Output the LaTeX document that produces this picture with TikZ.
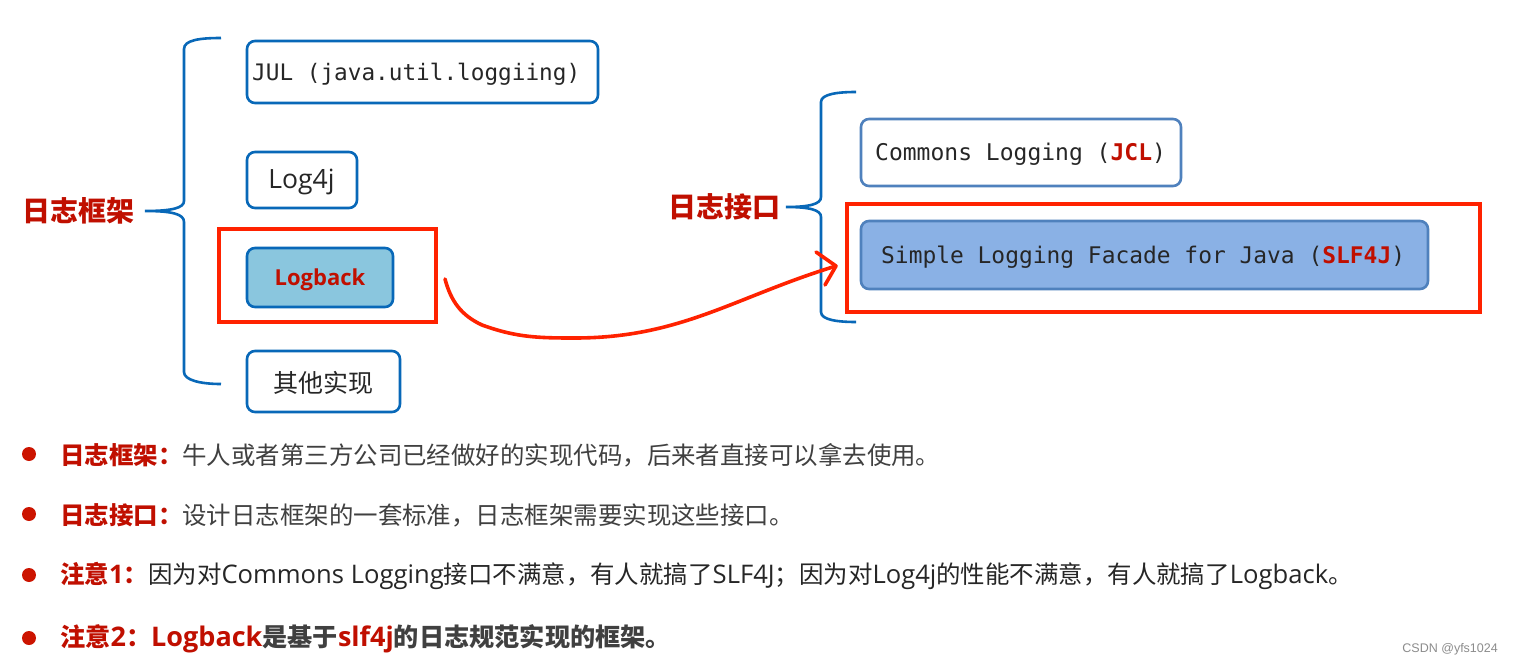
\documentclass[tikz,border=0pt]{standalone}
\usepackage{fontspec}
\setmainfont{Noto Sans CJK SC}
\newfontfamily\codefont{DejaVu Sans Mono}
\newfontfamily\latinfont{Open Sans}
\newfontfamily\markfont{Liberation Sans}
\definecolor{boxblue}{HTML}{0868B8}
\definecolor{softblue}{HTML}{4F81BD}
\definecolor{markred}{HTML}{FF2200}
\definecolor{darkred}{HTML}{C00F00}
\definecolor{dotred}{HTML}{CC1400}
\definecolor{graytext}{HTML}{404040}
\definecolor{logbackfill}{HTML}{8AC6DE}
\definecolor{slffill}{HTML}{8AB1E5}
\newcommand{\fs}[1]{\fontsize{#1}{#1}\selectfont}
\newcommand{\hot}[1]{\textcolor{darkred}{\textbf{#1}}}
\newcommand{\lat}[1]{{\latinfont\fs{25.6}#1}}
\newcommand{\latb}[1]{{\latinfont\fs{27}#1}}
\begin{document}
\begin{tikzpicture}[x=1pt,y=-1pt,
    implbox/.style ={rectangle, rounded corners=8pt, draw=boxblue, line width=2.6pt, inner sep=0pt, text=black!85},
    specbox/.style ={rectangle, rounded corners=8pt, draw=softblue, line width=2.6pt, inner sep=0pt, text=black!85},
    redframe/.style ={rectangle, draw=markred, line width=4.5pt, inner sep=0pt},
    bracket/.style ={draw=boxblue, line width=2.6pt},
    freehand/.style ={draw=markred, line width=3.6pt, line cap=round, line join=round},
    headline/.style ={darkred, inner sep=0pt, font=\fs{28}\bfseries},
    bullet/.style ={circle, fill=dotred, inner sep=0pt, minimum size=14pt},
    textline/.style ={anchor=west, inner sep=0pt, font=\fs{24.45}}]
   \useasboundingbox (0,0) rectangle (1513,666);
   \fill[white] (0,0) rectangle (1513,666);
   % left group
   \node[implbox, minimum width=351pt, minimum height=62pt] (JUL) at (422.5,72) {};
   \node[anchor=west, inner sep=0pt, font=\codefont\fs{22.7}, text=black!85] (JULtext) at (252,74.5) {JUL (java.util.loggiing)};
   \node[implbox, minimum width=110pt, minimum height=56pt] (Log4j) at (302,180) {};
   \node[anchor=center, inner sep=0pt, font=\latinfont\fs{26.5}, text=black!85] (Log4jtext) at (301.5,181.5) {Log4j};
   \node[redframe, minimum width=217pt, minimum height=93pt] (LogbackFrame) at (327.5,275.5) {};
   \node[implbox, fill=logbackfill, minimum width=146pt, minimum height=59pt] (Logback) at (320,277.5) {};
   \node[anchor=center, inner sep=0pt, text=darkred, font=\latinfont\bfseries\fs{22}] (Logbacktext) at (320,279.5) {Logback};
   \node[implbox, minimum width=153pt, minimum height=61pt] (Other) at (323.5,381.5) {};
   \node[anchor=center, inner sep=0pt, font=\fs{25}, text=black!85] (Othertext) at (323,383) {其他实现};
   \node[headline] (Framework) at (78,211) {日志框架};
   \draw[bracket] (221,38) .. controls (200,38) and (184,40) .. (184,49) -- (184,201) .. controls (184,208) and (172,211) .. (145,211)
      .. controls (172,211) and (184,214) .. (184,222) -- (184,372) .. controls (184,380) and (200,384) .. (221,384);
   % right group
   \node[specbox, minimum width=320pt, minimum height=67pt] (JCL) at (1021,152.5) {};
   \node[anchor=west, inner sep=0pt, font=\codefont\fs{23}, text=black!85] (JCLtext) at (875,154.5) {Commons Logging (\hot{JCL})};
   \node[redframe, minimum width=633pt, minimum height=108pt] (SLFFrame) at (1163.5,258) {};
   \node[specbox, fill=slffill, minimum width=567pt, minimum height=68pt] (SLF) at (1144.5,255) {};
   \node[anchor=west, inner sep=0pt, font=\codefont\fs{22.9}, text=black!85] (SLFtext) at (881,257) {Simple Logging Facade for Java (\hot{SLF4J})};
   \node[headline] (Interface) at (724,207) {日志接口};
   \draw[bracket] (856,92) .. controls (838,92) and (821,94) .. (821,102) -- (821,197) .. controls (821,204) and (810,207) .. (786,207)
      .. controls (810,207) and (821,210) .. (821,217) -- (821,312) .. controls (821,320) and (838,322) .. (856,322);
   % hand drawn arrow
   \coordinate (ArrowStart) at (445,279);
   \coordinate (ArrowKnee) at (482,325);
   \coordinate (ArrowBend) at (575,338);
   \coordinate (ArrowTip) at (836,266);
   \coordinate (HeadTop) at (816,252);
   \coordinate (HeadLow) at (825,285);
   \draw[freehand] (ArrowStart) to[out=-75,in=155] (ArrowKnee) to[out=-20,in=180] (ArrowBend) to[out=0,in=197] (ArrowTip);
   \draw[freehand] (HeadTop) -- (ArrowTip) -- (HeadLow);
   % notes
   \foreach \name/\ypos in {a/454,b/514,c/575,d/638}
      \node[bullet] (bullet\name) at (29,\ypos) {};
   \node[textline, text=graytext] (noteA) at (60,455) {\hot{日志框架：}牛人或者第三方公司已经做好的实现代码，后来者直接可以拿去使用。};
   \node[textline, text=graytext] (noteB) at (60,515) {\hot{日志接口：}设计日志框架的一套标准，日志框架需要实现这些接口。};
   \node[textline, text=black!85] (noteC) at (60,576) {\hot{注意\lat{1}：}因为对\lat{Commons Logging}接口不满意，有人就搞了\lat{SLF4J}；因为对\lat{Log4j}的性能不满意，有人就搞了\lat{Logback}。};
   \node[textline, text=graytext, font=\fs{25.2}\bfseries] (noteD) at (60,639) {\hot{注意\latb{2}：\latb{Logback}}是基于\hot{\latb{slf4j}}的日志规范实现的框架。};
   \node[anchor=east, inner sep=0pt, text=black!45, font=\markfont\fs{12.5}] (mark) at (1498,649) {CSDN @yfs1024};
 \end{tikzpicture}
\end{document}
